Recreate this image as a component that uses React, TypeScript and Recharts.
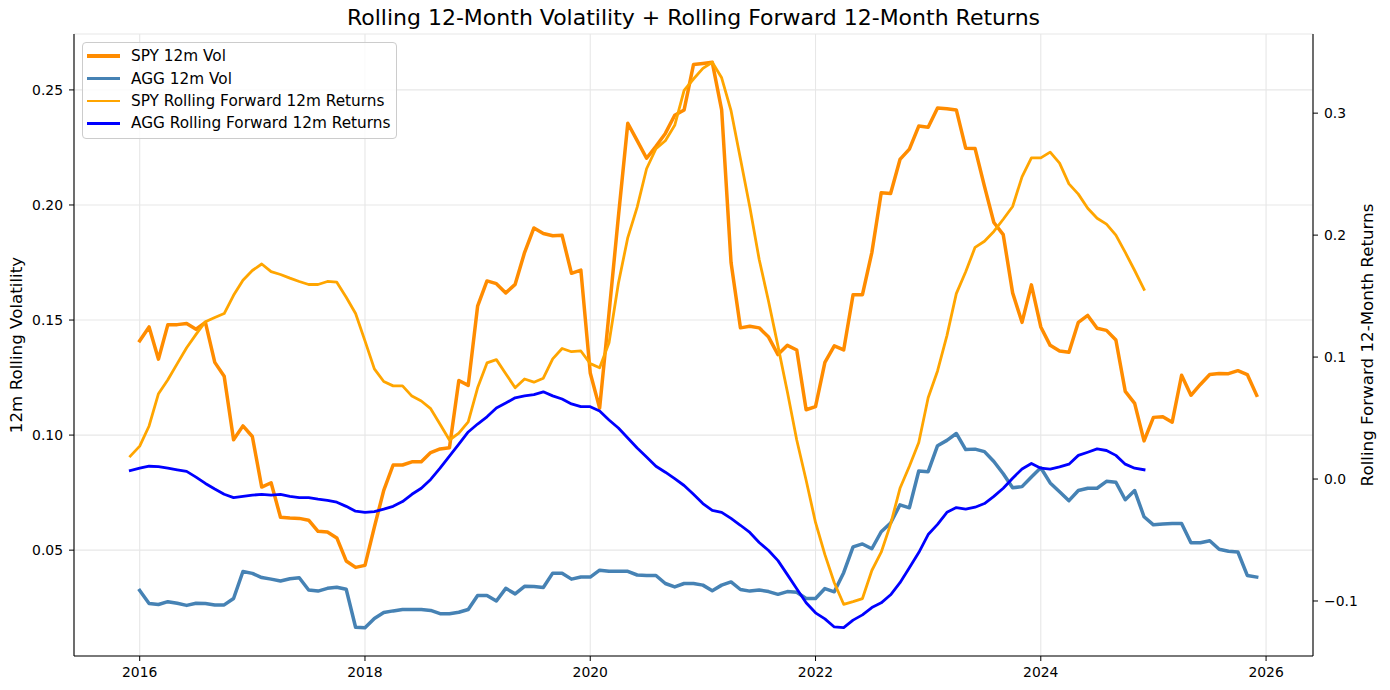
import React from 'react'
import { LineChart, Line, XAxis, YAxis, CartesianGrid, Legend } from 'recharts'

// month axis: Dec 2015 .. Dec 2025
const START_YEAR = 2015
const START_MONTH = 12
const MONTH_COUNT = 121

// Jan 2016 .. Dec 2025
const spyVol = [
  0.141, 0.147, 0.133, 0.148, 0.148, 0.1485, 0.146, 0.149, 0.1316, 0.1256, 0.098, 0.104,
  0.0994, 0.0774, 0.0793, 0.0643, 0.064, 0.0638, 0.063, 0.0582, 0.0579, 0.0553, 0.0453, 0.0425,
  0.0434, 0.06, 0.076, 0.087, 0.087, 0.0884, 0.0884, 0.0924, 0.094, 0.0945, 0.1237, 0.1216,
  0.156, 0.167, 0.1658, 0.1618, 0.1655, 0.1793, 0.19, 0.1876, 0.1866, 0.1868, 0.1703, 0.1717,
  0.127, 0.1117, 0.153, 0.195, 0.2355, 0.228, 0.2203, 0.2255, 0.2311, 0.239, 0.2413, 0.261,
  0.2615, 0.262, 0.2413, 0.175, 0.1466, 0.1473, 0.1466, 0.1426, 0.135, 0.139, 0.137, 0.111,
  0.1124, 0.1316, 0.1388, 0.137, 0.161, 0.161, 0.1793, 0.2053, 0.205, 0.2198, 0.2243, 0.2343,
  0.2338, 0.2421, 0.2418, 0.2413, 0.2247, 0.2245, 0.2081, 0.1924, 0.1871, 0.1618, 0.149, 0.1653,
  0.147, 0.139, 0.1365, 0.136, 0.149, 0.152, 0.1464, 0.1455, 0.1413, 0.119, 0.1138, 0.0975,
  0.1077, 0.108, 0.1056, 0.126, 0.1173, 0.122, 0.1263, 0.1268, 0.1267, 0.128, 0.1263, 0.1173,
]

// Jan 2016 .. Dec 2025
const aggVol = [
  0.0325, 0.0268, 0.0264, 0.0276, 0.0269, 0.026, 0.0269, 0.0268, 0.0262, 0.0262, 0.029, 0.0407,
  0.0399, 0.0381, 0.0374, 0.0366, 0.0376, 0.038, 0.0327, 0.0322, 0.0334, 0.0339, 0.033, 0.0165,
  0.0163, 0.0203, 0.0229, 0.0236, 0.0242, 0.0242, 0.0242, 0.0238, 0.0224, 0.0224, 0.023, 0.0242,
  0.0303, 0.0303, 0.0279, 0.0334, 0.031, 0.0343, 0.0342, 0.0338, 0.04, 0.04, 0.0374, 0.0383,
  0.0383, 0.0413, 0.0408, 0.0408, 0.0408, 0.0392, 0.039, 0.039, 0.0355, 0.034, 0.0355, 0.0355,
  0.0348, 0.0324, 0.0348, 0.0362, 0.0329, 0.0322, 0.0327, 0.032, 0.0308, 0.032, 0.0317, 0.029,
  0.029, 0.0333, 0.0319, 0.0402, 0.0514, 0.0527, 0.0506, 0.058, 0.0618, 0.0697, 0.0684, 0.0844,
  0.0841, 0.0954, 0.0977, 0.1007, 0.0937, 0.0939, 0.0928, 0.0885, 0.0832, 0.0771, 0.0776, 0.0818,
  0.0858, 0.0792, 0.0754, 0.0715, 0.0759, 0.0769, 0.0769, 0.0799, 0.0795, 0.0719, 0.0759, 0.0645,
  0.061, 0.0614, 0.0616, 0.0616, 0.0532, 0.0532, 0.0541, 0.0504, 0.0495, 0.0492, 0.039, 0.0383,
]

// Dec 2015 .. Dec 2024
const spyFwd = [
  0.0188,
  0.027, 0.0435, 0.07, 0.0814, 0.0946, 0.1077, 0.1186, 0.129, 0.1325, 0.1357, 0.1506, 0.163,
  0.171, 0.1763, 0.17, 0.1677, 0.1647, 0.162, 0.1595, 0.1595, 0.162, 0.1614, 0.149, 0.1357,
  0.1133, 0.0903, 0.08, 0.0764, 0.0764, 0.068, 0.064, 0.0577, 0.045, 0.032, 0.0376, 0.0468,
  0.0748, 0.0952, 0.0979, 0.0863, 0.0748, 0.082, 0.0794, 0.0827, 0.0985, 0.107, 0.1044, 0.105,
  0.0946, 0.0913, 0.1117, 0.1605, 0.198, 0.223, 0.2544, 0.2708, 0.2774, 0.29, 0.3186, 0.328,
  0.3367, 0.3417, 0.329, 0.302, 0.2626, 0.223, 0.18, 0.1456, 0.109, 0.0715, 0.032, -0.001,
  -0.0356, -0.062, -0.085, -0.1027, -0.1005, -0.098, -0.075, -0.06, -0.037, -0.0076, 0.0105, 0.03,
  0.0666, 0.0886, 0.1176, 0.152, 0.17, 0.19, 0.195, 0.203, 0.213, 0.2235, 0.2478, 0.2633,
  0.2633, 0.268, 0.259, 0.242, 0.2336, 0.222, 0.2138, 0.209, 0.2, 0.1858, 0.171, 0.1555,
]

// Dec 2015 .. Dec 2024
const aggFwd = [
  0.0069,
  0.0089, 0.0105, 0.0102, 0.0089, 0.0076, 0.0063, 0.0016, -0.0036, -0.0082, -0.0125, -0.0152, -0.0142,
  -0.0132, -0.0125, -0.0132, -0.0125, -0.0142, -0.0152, -0.0152, -0.0165, -0.0175, -0.019, -0.0224, -0.0264,
  -0.0273, -0.0267, -0.0247, -0.0224, -0.0185, -0.0125, -0.0076, -0.0003, 0.0089, 0.0188, 0.0287, 0.0386,
  0.0451, 0.051, 0.0583, 0.0623, 0.0666, 0.0682, 0.0692, 0.0715, 0.0682, 0.0656, 0.0616, 0.0593,
  0.0593, 0.0557, 0.0484, 0.0418, 0.0336, 0.0254, 0.0181, 0.0105, 0.0056, 0.0003, -0.0053, -0.0125,
  -0.0201, -0.0257, -0.0273, -0.0323, -0.0379, -0.0438, -0.052, -0.0586, -0.0669, -0.0784, -0.09, -0.1015,
  -0.1097, -0.1147, -0.1213, -0.1219, -0.1157, -0.1114, -0.1054, -0.1015, -0.0949, -0.085, -0.0728, -0.0603,
  -0.0455, -0.0372, -0.0273, -0.0234, -0.0247, -0.0231, -0.0201, -0.0142, -0.0076, 0.0007, 0.0082, 0.0128,
  0.0089, 0.0082, 0.0099, 0.0122, 0.0194, 0.022, 0.0247, 0.0234, 0.0194, 0.0122, 0.0089, 0.0076,
]

const xTicks = [2016, 2018, 2020, 2022, 2024, 2026]
const volTicks = [0.05, 0.1, 0.15, 0.2, 0.25]
const retTicks = [-0.1, 0, 0.1, 0.2, 0.3]

const series = [
  { key: 'spyVol', name: 'SPY 12m Vol', color: '#FF8C00', width: 3.5, axis: 'left' },
  { key: 'aggVol', name: 'AGG 12m Vol', color: '#4682B4', width: 3.5, axis: 'left' },
  { key: 'spyFwd', name: 'SPY Rolling Forward 12m Returns', color: '#FFA500', width: 2.8, axis: 'right' },
  { key: 'aggFwd', name: 'AGG Rolling Forward 12m Returns', color: '#0000FF', width: 2.8, axis: 'right' },
]

const data = Array.from({ length: MONTH_COUNT }, (_, i) => {
  const m = START_MONTH - 1 + i
  const year = START_YEAR + Math.floor(m / 12)
  const month = (m % 12) + 1
  return {
    t: year + (month - 1) / 12,
    spyVol: i >= 1 ? spyVol[i - 1] : null,
    aggVol: i >= 1 ? aggVol[i - 1] : null,
    spyFwd: i < spyFwd.length ? spyFwd[i] : null,
    aggFwd: i < aggFwd.length ? aggFwd[i] : null,
  }
})

const FONT = '"DejaVu Sans", sans-serif'
const tickStyle = { fill: '#000', fontSize: 13.9 }
const fmtRet = (v: number) => (v < 0 ? '\u2212' : '') + Math.abs(v).toFixed(1)

function LegendBox() {
  return (
    <div
      style={{
        background: 'rgba(255,255,255,0.8)',
        border: '1px solid #cccccc',
        borderRadius: 4,
        padding: '2px 6px 3px 4px',
        fontSize: 15.3,
        color: '#000',
        fontFamily: FONT,
      }}
    >
      {series.map((s) => (
        <div key={s.key} style={{ display: 'flex', alignItems: 'center', height: 22.4, whiteSpace: 'nowrap' }}>
          <div style={{ width: 33, height: s.width, background: s.color, marginRight: 11 }} />
          <span>{s.name}</span>
        </div>
      ))}
    </div>
  )
}

export default function App() {
  return (
    <div style={{ position: 'absolute', left: 0, top: 0, width: 1390, height: 690, background: '#fff', fontFamily: FONT }}>
      <div
        style={{
          position: 'absolute',
          left: 74,
          width: 1239,
          top: 7,
          textAlign: 'center',
          fontSize: 22,
          lineHeight: '22px',
          color: '#000',
        }}
      >
        Rolling 12-Month Volatility + Rolling Forward 12-Month Returns
      </div>
      <LineChart width={1390} height={690} data={data} margin={{ top: 34, right: 0, bottom: 0, left: 0 }}>
        <CartesianGrid yAxisId="left" stroke="#e7e7e7" strokeWidth={1.1} />
        <XAxis
          dataKey="t"
          type="number"
          domain={[2015.4167, 2026.4167]}
          ticks={xTicks}
          allowDataOverflow
          height={34}
          tick={tickStyle}
          tickSize={5}
          tickMargin={6}
          tickLine={{ stroke: '#000' }}
          axisLine={{ stroke: '#000', strokeWidth: 1.1 }}
        />
        <XAxis
          xAxisId="top"
          dataKey="t"
          type="number"
          orientation="top"
          domain={[2015.4167, 2026.4167]}
          height={0}
          tick={false}
          tickLine={false}
          axisLine={{ stroke: '#000', strokeWidth: 1.1 }}
        />
        <YAxis
          yAxisId="left"
          type="number"
          domain={[0.004, 0.2743]}
          ticks={volTicks}
          allowDataOverflow
          width={74}
          tick={tickStyle}
          tickSize={5}
          tickMargin={6}
          tickFormatter={(v: number) => v.toFixed(2)}
          tickLine={{ stroke: '#000' }}
          axisLine={{ stroke: '#000', strokeWidth: 1.1 }}
          label={{
            value: '12m Rolling Volatility',
            angle: -90,
            position: 'insideLeft',
            offset: 16,
            style: { textAnchor: 'middle', fill: '#000', fontSize: 16.7 },
          }}
        />
        <YAxis
          yAxisId="right"
          orientation="right"
          type="number"
          domain={[-0.1451, 0.3649]}
          ticks={retTicks}
          allowDataOverflow
          width={77}
          tick={tickStyle}
          tickSize={5}
          tickMargin={6}
          tickFormatter={fmtRet}
          tickLine={{ stroke: '#000' }}
          axisLine={{ stroke: '#000', strokeWidth: 1.1 }}
          label={{
            value: 'Rolling Forward 12-Month Returns',
            angle: -90,
            position: 'insideRight',
            offset: 23,
            style: { textAnchor: 'middle', fill: '#000', fontSize: 16.7 },
          }}
        />
        <Legend
          layout="vertical"
          align="center"
          verticalAlign="middle"
          content={() => <LegendBox />}
          wrapperStyle={{ left: 82, top: 42, width: 'auto', height: 'auto' }}
        />
        {series.map((s) => (
          <Line
            key={s.key}
            yAxisId={s.axis}
            dataKey={s.key}
            name={s.name}
            type="linear"
            stroke={s.color}
            strokeWidth={s.width}
            strokeLinejoin="round"
            strokeLinecap="square"
            dot={false}
            activeDot={false}
            isAnimationActive={false}
          />
        ))}
      </LineChart>
    </div>
  )
}
